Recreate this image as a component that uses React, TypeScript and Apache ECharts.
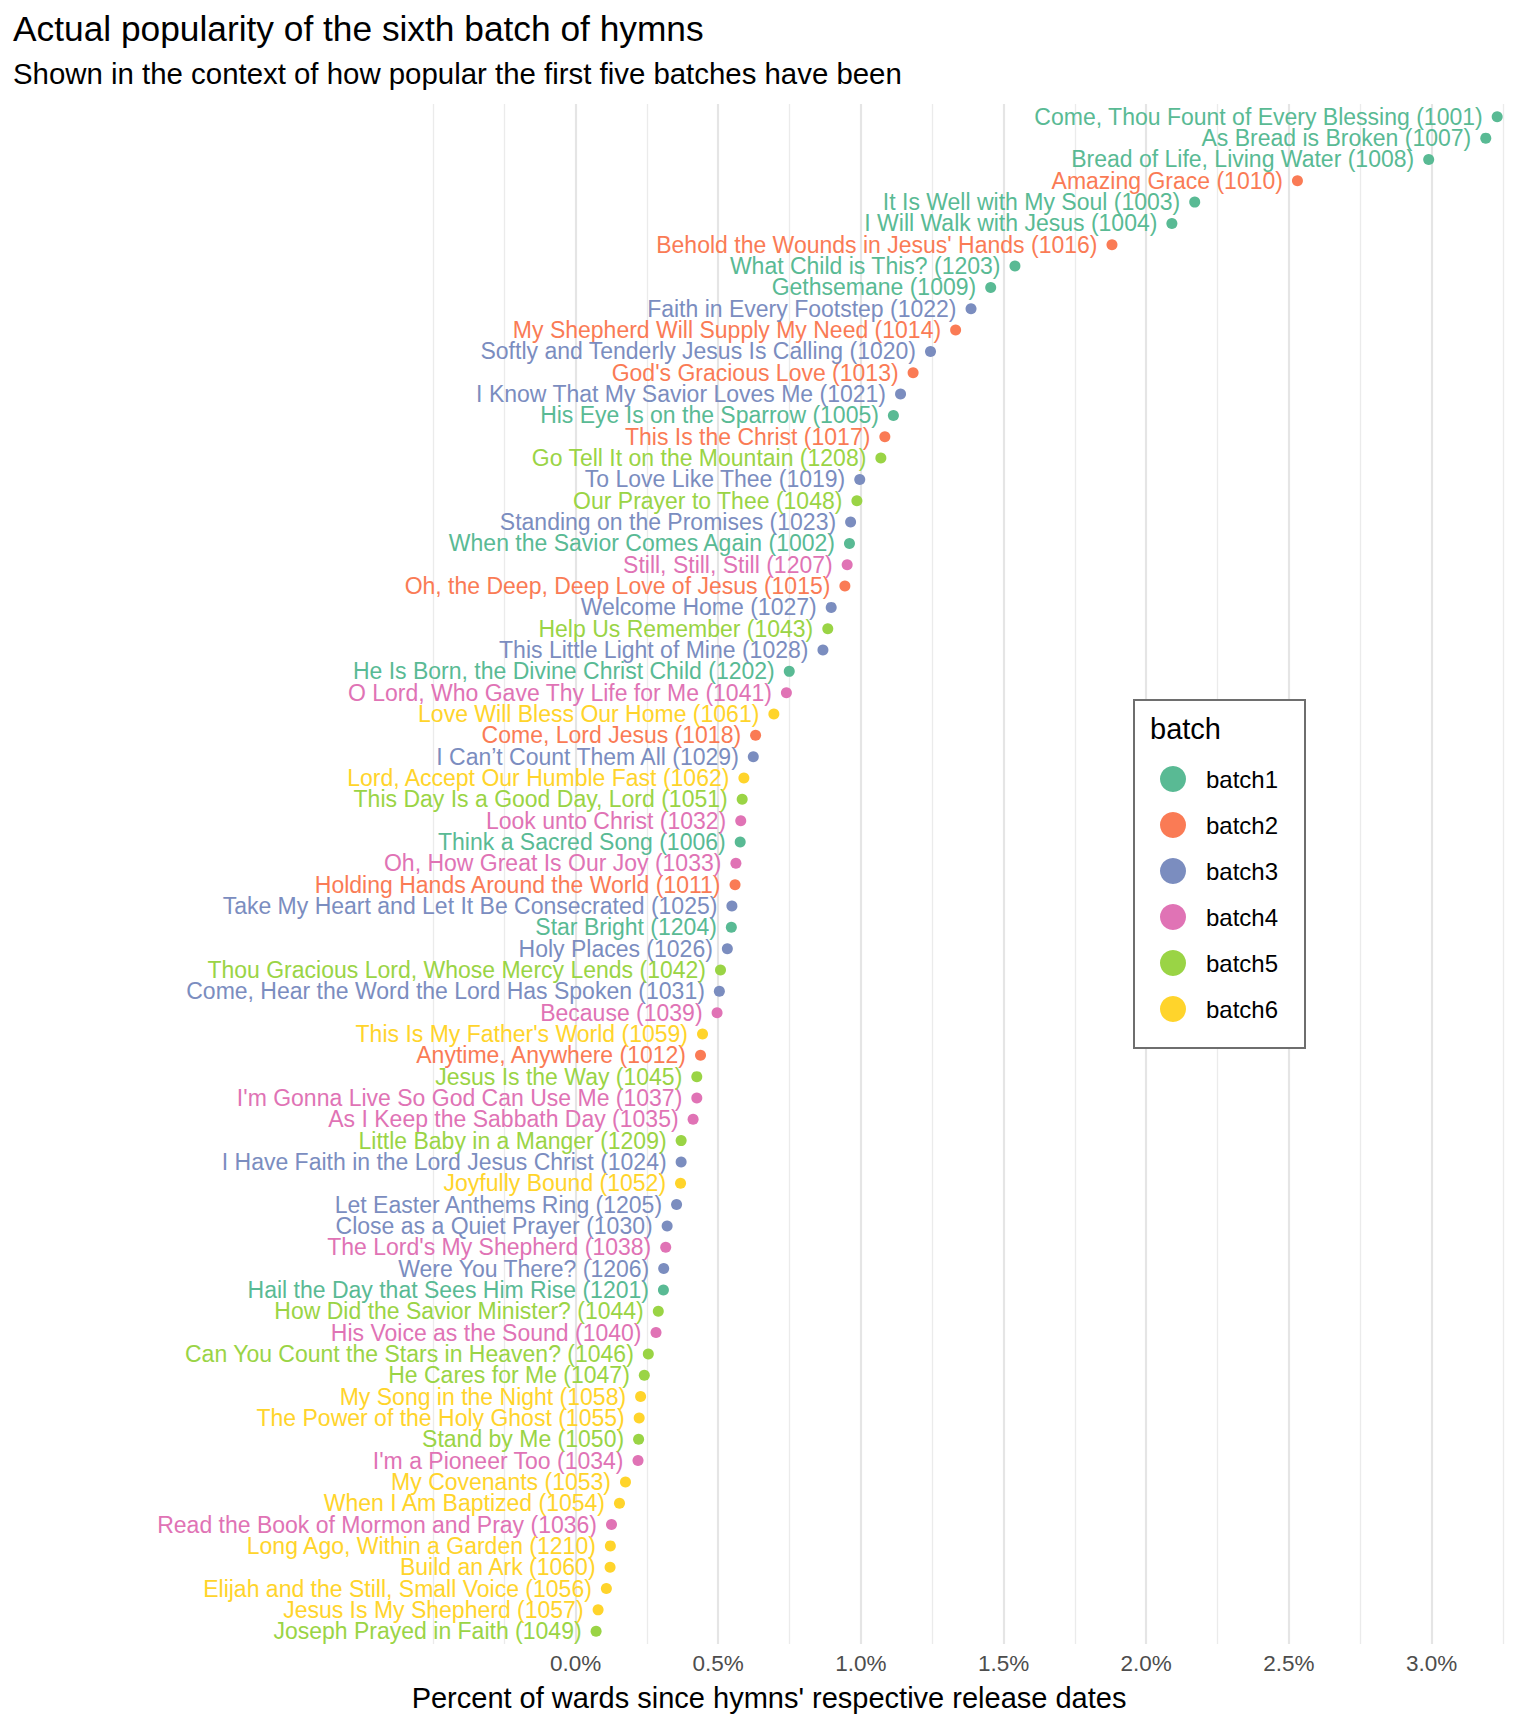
import React, { useEffect, useRef } from 'react';
import * as echarts from 'echarts';

// hymn titles, top to bottom
const hymnTitles: string[] = [
  'Come, Thou Fount of Every Blessing (1001)',
  'As Bread is Broken (1007)',
  'Bread of Life, Living Water (1008)',
  'Amazing Grace (1010)',
  'It Is Well with My Soul (1003)',
  'I Will Walk with Jesus (1004)',
  "Behold the Wounds in Jesus' Hands (1016)",
  'What Child is This? (1203)',
  'Gethsemane (1009)',
  'Faith in Every Footstep (1022)',
  'My Shepherd Will Supply My Need (1014)',
  'Softly and Tenderly Jesus Is Calling (1020)',
  "God's Gracious Love (1013)",
  'I Know That My Savior Loves Me (1021)',
  'His Eye Is on the Sparrow (1005)',
  'This Is the Christ (1017)',
  'Go Tell It on the Mountain (1208)',
  'To Love Like Thee (1019)',
  'Our Prayer to Thee (1048)',
  'Standing on the Promises (1023)',
  'When the Savior Comes Again (1002)',
  'Still, Still, Still (1207)',
  'Oh, the Deep, Deep Love of Jesus (1015)',
  'Welcome Home (1027)',
  'Help Us Remember (1043)',
  'This Little Light of Mine (1028)',
  'He Is Born, the Divine Christ Child (1202)',
  'O Lord, Who Gave Thy Life for Me (1041)',
  'Love Will Bless Our Home (1061)',
  'Come, Lord Jesus (1018)',
  'I Can\u2019t Count Them All (1029)',
  'Lord, Accept Our Humble Fast (1062)',
  'This Day Is a Good Day, Lord (1051)',
  'Look unto Christ (1032)',
  'Think a Sacred Song (1006)',
  'Oh, How Great Is Our Joy (1033)',
  'Holding Hands Around the World (1011)',
  'Take My Heart and Let It Be Consecrated (1025)',
  'Star Bright (1204)',
  'Holy Places (1026)',
  'Thou Gracious Lord, Whose Mercy Lends (1042)',
  'Come, Hear the Word the Lord Has Spoken (1031)',
  'Because (1039)',
  "This Is My Father's World (1059)",
  'Anytime, Anywhere (1012)',
  'Jesus Is the Way (1045)',
  "I'm Gonna Live So God Can Use Me (1037)",
  'As I Keep the Sabbath Day (1035)',
  'Little Baby in a Manger (1209)',
  'I Have Faith in the Lord Jesus Christ (1024)',
  'Joyfully Bound (1052)',
  'Let Easter Anthems Ring (1205)',
  'Close as a Quiet Prayer (1030)',
  "The Lord's My Shepherd (1038)",
  'Were You There? (1206)',
  'Hail the Day that Sees Him Rise (1201)',
  'How Did the Savior Minister? (1044)',
  'His Voice as the Sound (1040)',
  'Can You Count the Stars in Heaven? (1046)',
  'He Cares for Me (1047)',
  'My Song in the Night (1058)',
  'The Power of the Holy Ghost (1055)',
  'Stand by Me (1050)',
  "I'm a Pioneer Too (1034)",
  'My Covenants (1053)',
  'When I Am Baptized (1054)',
  'Read the Book of Mormon and Pray (1036)',
  'Long Ago, Within a Garden (1210)',
  'Build an Ark (1060)',
  'Elijah and the Still, Small Voice (1056)',
  'Jesus Is My Shepherd (1057)',
  'Joseph Prayed in Faith (1049)',
];

// batch number of each hymn (1..6)
const hymnBatch: number[] = [
  1, 1, 1, 2, 1, 1, 2, 1, 1, 3,
  2, 3, 2, 3, 1, 2, 5, 3, 5, 3,
  1, 4, 2, 3, 5, 3, 1, 4, 6, 2,
  3, 6, 5, 4, 1, 4, 2, 3, 1, 3,
  5, 3, 4, 6, 2, 5, 4, 4, 5, 3,
  6, 3, 3, 4, 3, 1, 5, 4, 5, 5,
  6, 6, 5, 4, 6, 6, 4, 6, 6, 6,
  6, 5,
];

// percent of wards
const hymnPercent: number[] = [
  3.23, 3.19, 2.99, 2.53, 2.17, 2.09, 1.88, 1.54, 1.455, 1.386,
  1.332, 1.244, 1.183, 1.139, 1.114, 1.084, 1.07, 0.996, 0.986, 0.964,
  0.96, 0.952, 0.944, 0.896, 0.884, 0.867, 0.749, 0.739, 0.695, 0.631,
  0.623, 0.59, 0.584, 0.579, 0.577, 0.562, 0.559, 0.548, 0.546, 0.532,
  0.508, 0.504, 0.496, 0.445, 0.438, 0.425, 0.425, 0.412, 0.37, 0.37,
  0.368, 0.354, 0.321, 0.316, 0.309, 0.308, 0.29, 0.282, 0.255, 0.241,
  0.228, 0.223, 0.221, 0.219, 0.175, 0.154, 0.126, 0.122, 0.121, 0.108,
  0.079, 0.072,
];

const batchNames = ['batch1', 'batch2', 'batch3', 'batch4', 'batch5', 'batch6'];
const batchColors = ['#59BA94', '#FA7B55', '#7B8DBF', '#E073B5', '#9AD445', '#FFD42B'];

// x axis breaks (percent)
const majorBreaks = [0, 0.5, 1, 1.5, 2, 2.5, 3];
const minorBreaks = [-0.5, -0.25, 0.25, 0.75, 1.25, 1.75, 2.25, 2.75, 3.25];

const FONT = '"Liberation Sans", Arial, Helvetica, sans-serif';

const App: React.FC = () => {
  const chartRef = useRef<HTMLDivElement>(null);

  useEffect(() => {
    if (!chartRef.current) return;
    const chart = echarts.init(chartRef.current, undefined, { renderer: 'svg' });

    // 每个批次一个系列
    const batchSeries = batchNames.map((name, b) => ({
      name,
      type: 'scatter',
      z: 5,
      clip: false,
      symbol: 'circle',
      symbolSize: 11,
      itemStyle: { color: batchColors[b], opacity: 1 },
      label: {
        show: true,
        position: 'left',
        distance: 9,
        color: batchColors[b],
        fontSize: 23,
        fontFamily: FONT,
        formatter: (p: any) => p.data[2],
      },
      emphasis: { disabled: true },
      data: hymnTitles
        .map((title, i) => [hymnPercent[i], i, title, hymnBatch[i]])
        .filter((d) => d[3] === b + 1)
        .map((d) => [d[0], d[1], d[2]]),
    }));

    // 网格线
    const gridSeries = {
      name: 'grid',
      type: 'scatter',
      z: 1,
      data: [],
      silent: true,
      markLine: {
        silent: true,
        symbol: 'none',
        label: { show: false },
        data: [
          ...minorBreaks.map((v) => ({
            xAxis: v,
            lineStyle: { color: '#EBEBEB', width: 1.3, type: 'solid' },
          })),
          ...majorBreaks.map((v) => ({
            xAxis: v,
            lineStyle: { color: '#E5E5E5', width: 2.2, type: 'solid' },
          })),
        ],
      },
    };

    const option = {
      animation: false,
      backgroundColor: '#ffffff',
      textStyle: { fontFamily: FONT },
      title: [
        {
          text: 'Actual popularity of the sixth batch of hymns',
          left: 13,
          top: 10,
          padding: 0,
          textStyle: { fontSize: 35.3, fontWeight: 'normal', color: '#000', lineHeight: 36, fontFamily: FONT },
        },
        {
          text: 'Shown in the context of how popular the first five batches have been',
          left: 13,
          top: 58,
          padding: 0,
          textStyle: { fontSize: 29.4, fontWeight: 'normal', color: '#000', lineHeight: 30, fontFamily: FONT },
        },
      ],
      grid: { left: 14, right: 12, top: 104, bottom: 84, containLabel: false },
      xAxis: {
        type: 'value',
        min: -1.968,
        max: 3.324,
        splitLine: { show: false },
        axisLine: { show: false },
        axisTick: { show: false },
        axisLabel: {
          customValues: majorBreaks,
          formatter: (v: number) => v.toFixed(1) + '%',
          color: '#4D4D4D',
          fontSize: 22.5,
          margin: 8,
          fontFamily: FONT,
        },
        name: "Percent of wards since hymns' respective release dates",
        nameLocation: 'middle',
        nameGap: 39,
        nameTextStyle: { fontSize: 29, color: '#000', fontFamily: FONT },
      },
      yAxis: {
        type: 'value',
        inverse: true,
        min: -0.6,
        max: hymnTitles.length - 1 + 0.6,
        show: false,
        splitLine: { show: false },
      },
      legend: {
        data: batchNames,
        orient: 'vertical',
        left: 1160,
        top: 766,
        z: 100,
        icon: 'circle',
        itemWidth: 26,
        itemHeight: 26,
        itemGap: 20,
        selectedMode: false,
        padding: 0,
        textStyle: { fontSize: 24, color: '#000', fontFamily: FONT, padding: [0, 0, 0, 15] },
      },
      graphic: [
        {
          type: 'rect',
          z: 50,
          shape: { x: 1134, y: 700, width: 171, height: 348 },
          style: { fill: '#ffffff', stroke: '#6E6E6E', lineWidth: 2 },
        },
        {
          type: 'text',
          z: 51,
          x: 1150,
          y: 729,
          style: {
            text: 'batch',
            fontSize: 29,
            fontFamily: FONT,
            fill: '#000',
            verticalAlign: 'middle',
            align: 'left',
          },
        },
      ],
      series: [gridSeries, ...batchSeries],
    };

    chart.setOption(option as any);

    return () => {
      chart.dispose();
    };
  }, []);

  return (
    <div
      ref={chartRef}
      style={{ position: 'absolute', left: 0, top: 0, width: 1536, height: 1728 }}
    />
  );
};

export default App;
